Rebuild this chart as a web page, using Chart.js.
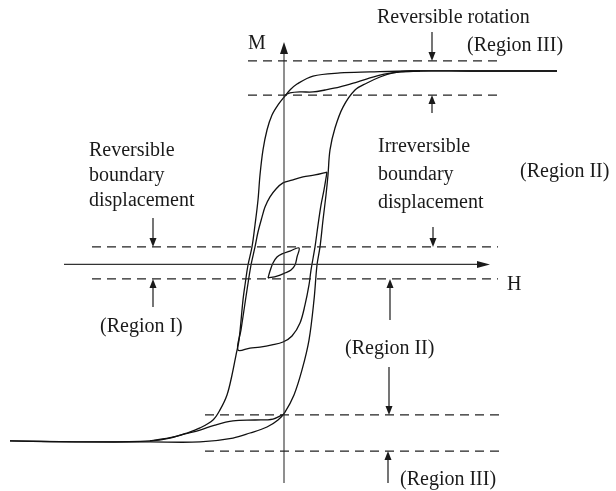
<!DOCTYPE html>
<html>
<head>
<meta charset="utf-8">
<script src="https://cdn.jsdelivr.net/npm/chart.js@4.4.1/dist/chart.umd.min.js"></script>
<style>
html, body { margin: 0; padding: 0; background: #fff; }
#wrap { width: 616px; height: 491px; }
</style>
</head>
<body>
<div id="wrap"><canvas id="loopChart"></canvas></div>
<script>

// ---------- CURVE DATA, points are [H, M] (M = 1 at saturation) ----------

// major loop, coming down from positive saturation
const outerDown = [
[2.72,1.000],[1.85,1.000],[1.25,1.000],[0.85,0.995],[0.55,0.990],[0.28,0.974],
[0.12,0.933],[0.05,0.902],[0.00,0.871],[-0.07,0.825],[-0.13,0.773],[-0.18,0.696],
[-0.22,0.593],[-0.25,0.464],[-0.27,0.335],[-0.30,0.206],[-0.33,0.093],[-0.37,0.000],
[-0.40,-0.103],[-0.42,-0.180],[-0.46,-0.387],[-0.49,-0.464],[-0.53,-0.567],
[-0.58,-0.670],[-0.65,-0.747],[-0.72,-0.799],[-0.85,-0.840],[-0.98,-0.866],
[-1.15,-0.892],[-1.35,-0.907],[-1.85,-0.912],[-2.75,-0.907]
];

// major loop, going up from negative saturation
const outerUp = [
[-2.75,-0.907],[-2.08,-0.912],[-1.35,-0.912],[-0.85,-0.912],[-0.52,-0.892],
[-0.35,-0.866],[-0.18,-0.835],[-0.07,-0.799],[0.00,-0.758],[0.09,-0.670],
[0.17,-0.541],[0.24,-0.387],[0.29,-0.180],[0.32,0.000],[0.35,0.093],[0.38,0.232],
[0.41,0.361],[0.43,0.464],[0.45,0.593],[0.50,0.706],[0.58,0.814],[0.70,0.902],
[0.82,0.938],[0.95,0.969],[1.08,0.990],[1.25,1.000],[1.85,1.000],[2.72,1.000]
];

// minor loop in the middle
const minorLoop = [
[0.42,0.479],[0.30,0.464],[0.18,0.454],[0.07,0.438],[-0.02,0.423],[-0.09,0.392],
[-0.15,0.351],[-0.20,0.299],[-0.23,0.247],[-0.27,0.170],[-0.30,0.093],[-0.34,0.000],
[-0.38,-0.129],[-0.41,-0.232],[-0.44,-0.335],[-0.47,-0.438],
[-0.35,-0.428],[-0.25,-0.423],[-0.13,-0.412],[-0.02,-0.397],[0.07,-0.366],
[0.15,-0.299],[0.20,-0.206],[0.24,-0.103],[0.26,-0.026],[0.30,0.093],[0.33,0.206],
[0.36,0.309],[0.39,0.387],[0.42,0.479]
];

// return branches from remanence back to saturation
const returnTop = [
[0.00,0.876],[0.05,0.887],[0.15,0.892],[0.28,0.892],[0.40,0.902],[0.55,0.918],
[0.72,0.943],[0.95,0.979],[1.15,0.995],[1.35,1.000]
];
const returnBottom = [
[-0.01,-0.768],[-0.12,-0.794],[-0.30,-0.799],[-0.52,-0.804],[-0.70,-0.825],
[-0.85,-0.851],[-1.00,-0.871],[-1.12,-0.887],[-1.35,-0.907]
];

// small Rayleigh loop round the origin
const smallLoop = [
[-0.17,-0.067],[-0.15,-0.031],[-0.12,0.010],[-0.08,0.041],[-0.03,0.057],[0.05,0.072],
[0.14,0.088],[0.12,0.041],[0.10,0.000],[0.06,-0.026],[0.00,-0.041],[-0.08,-0.057],
[-0.17,-0.067]
];

// dashed region limits
const dashLevels = [1.052, 0.876, 0.093, -0.072, -0.773, -0.959];
const dashFrom   = [-0.37, -0.37, -1.93, -1.93, -0.80, -0.80];
const dashTo     = [2.17, 2.17, 2.13, 2.13, 2.20, 2.20];

// axes
const axisH = [[-2.21,0.003],[2.00,0.003]];
const axisM = [[-0.01,-1.124],[-0.01,1.10]];

// labels: text, H, M (left edge, baseline)
const labelText = [
"Reversible rotation","(Region III)","M",
"Reversible","boundary","displacement","(Region I)",
"Irreversible","boundary","displacement","(Region II)","H",
"(Region II)","(Region III)"
];
const labelH = [0.92,1.82,-0.37,-1.96,-1.96,-1.96,-1.85,0.93,0.93,0.93,2.35,2.22,0.60,1.15];
const labelM = [1.247,1.103,1.113,0.562,0.433,0.304,-0.345,0.582,0.438,0.294,0.454,-0.129,-0.459,-1.134];

// pointer arrows: H, tail M, tip M
const arrowH    = [1.47, 1.47, -1.32, -1.32, 1.48, 1.05, 1.04, 1.03];
const arrowFrom = [1.201, 0.784, 0.242, -0.216, 0.196, -0.284, -0.526, -1.124];
const arrowTo   = [1.052, 0.876, 0.093, -0.072, 0.093, -0.072, -0.773, -0.959];


// ---------- BUILD DATASETS ----------

function toPoints(list){
return list.map(p => ({x: p[0], y: p[1]}));
}

function curve(list){
return {
data: toPoints(list),
showLine: true,
borderColor: "#111",
borderWidth: 1.3,
pointRadius: 0,
tension: 0.35,
fill: false
};
}

let datasets = [];

dashLevels.forEach((m, i) => {
datasets.push({
data: [{x: dashFrom[i], y: m}, {x: dashTo[i], y: m}],
showLine: true,
borderColor: "#222",
borderWidth: 1.3,
borderDash: [9, 6],
pointRadius: 0,
fill: false
});
});

[axisH, axisM].forEach(a => {
datasets.push({
data: toPoints(a),
showLine: true,
borderColor: "#333",
borderWidth: 1.1,
pointRadius: 0,
fill: false
});
});

[outerDown, outerUp, minorLoop, returnTop, returnBottom, smallLoop].forEach(c => datasets.push(curve(c)));


// ---------- ARROWS AND TEXT ----------

function head(ctx, x, y, dx, dy, len, half){
ctx.beginPath();
ctx.moveTo(x, y);
ctx.lineTo(x - dx*len - dy*half, y - dy*len + dx*half);
ctx.lineTo(x - dx*len + dy*half, y - dy*len - dx*half);
ctx.closePath();
ctx.fill();
}

const decor = {
id: "decor",
afterDatasetsDraw(chart){
const ctx = chart.ctx;
const px = h => chart.scales.x.getPixelForValue(h);
const py = m => chart.scales.y.getPixelForValue(m);

ctx.save();
ctx.fillStyle = "#1a1a1a";
ctx.strokeStyle = "#1a1a1a";

// axis heads
head(ctx, px(2.05), py(0.003), 1, 0, 13, 3.5);
head(ctx, px(-0.01), py(1.149), 0, -1, 12, 4);

// pointer arrows
ctx.lineWidth = 1.2;
arrowH.forEach((h, i) => {
let x = px(h), y1 = py(arrowFrom[i]), y2 = py(arrowTo[i]);
let dir = y2 > y1 ? 1 : -1;
ctx.beginPath();
ctx.moveTo(x, y1);
ctx.lineTo(x, y2 - dir*6);
ctx.stroke();
head(ctx, x, y2, 0, dir, 9, 3.5);
});

// labels
ctx.font = '20px "Liberation Serif", "Times New Roman", serif';
ctx.textAlign = "left";
ctx.textBaseline = "alphabetic";
labelText.forEach((t, i) => ctx.fillText(t, px(labelH[i]), py(labelM[i])));

ctx.restore();
}
};


// ---------- CHART ----------

document.addEventListener("DOMContentLoaded", function(){

new Chart(document.getElementById("loopChart"), {
type: "scatter",
data: { datasets: datasets },
options: {
responsive: true,
maintainAspectRatio: false,
animation: false,
layout: { padding: 0 },
plugins: { legend: { display: false }, tooltip: { enabled: false } },
scales: {
x: { type: "linear", min: -2.85, max: 3.31, display: false },
y: { type: "linear", min: -1.165, max: 1.366, display: false }
}
},
plugins: [decor]
});

});

</script>
</body>
</html>
